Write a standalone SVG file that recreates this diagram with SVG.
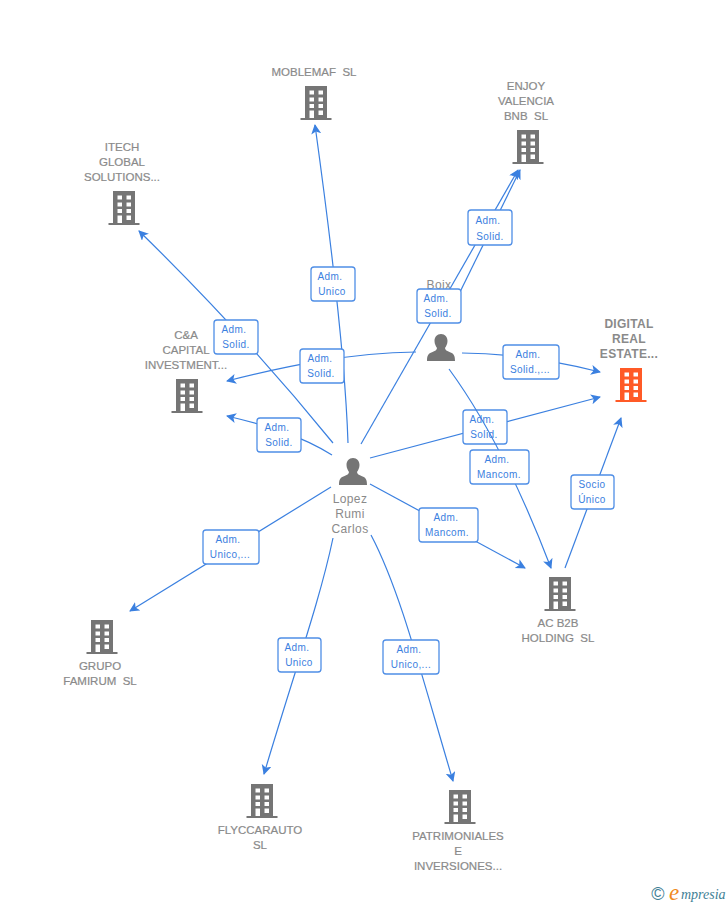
<svg xmlns="http://www.w3.org/2000/svg" width="728" height="905" viewBox="0 0 728 905">
<style>
.n{font:11.500px "Liberation Sans",Arial,sans-serif;fill:#8a8a8a;text-anchor:middle}
.b{stroke:#8a8a8a;stroke-width:.2}
.d{font-weight:bold;font-size:12px;stroke:none;letter-spacing:.3px}
.p{font-size:12px;letter-spacing:.4px}
.e{fill:none;stroke:#3b80e0;stroke-width:1.2}
.l rect{fill:#fff;stroke:#4f8ee6;stroke-width:1.3}
.l text{font:10px "Liberation Sans",Arial,sans-serif;fill:#3b80e0;text-anchor:middle;letter-spacing:.4px}
</style>
<defs>
<marker id="a" markerWidth="11" markerHeight="11" refX="9" refY="5" orient="auto" markerUnits="userSpaceOnUse"><path d="M0 0L10 5L0 10L2.500 5Z" fill="#3b80e0"/></marker>
<g id="bld">
<path fill-rule="evenodd" d="M-11 0H11V32H15.500V34H-15.500V32H-11ZM-6.500 4.500V8.500H-2V4.500ZM2.500 4.500V8.500H7V4.500ZM-6.500 11.500V15.500H-2V11.500ZM2.500 11.500V15.500H7V11.500ZM-6.500 18V22H-2V18ZM2.500 18V22H7V18ZM-6.500 24.500V32H-2V24.500ZM2.500 24.500V29H7V24.500Z"/>
</g>
<path id="per" d="M0 0C4 0 6.500 3 6.500 7C6.500 10 5 12.500 4 14C4 16 6 17 9 18.200C12.500 19.500 14 21 14 27H-14C-14 21 -12.500 19.500 -9 18.200C-6 17 -4 16 -4 14C-5 12.500 -6.500 10 -6.500 7C-6.500 3 -4 0 0 0Z" fill="#757575"/>
</defs>
<rect width="728" height="905" fill="#fff"/>
<g id="connectors">
<path class="e" marker-end="url(#a)" d="M348 443C346 380 335 270 315 125"/>
<path class="e" marker-end="url(#a)" d="M361 444L518 170"/>
<path class="e" marker-end="url(#a)" d="M333 443C290 390 220 310 139 231"/>
<path class="e" marker-end="url(#a)" d="M332 455C300 435 265 425 227 416"/>
<path class="e" marker-end="url(#a)" d="M370 458L600 397"/>
<path class="e" marker-end="url(#a)" d="M370 484L525 568"/>
<path class="e" marker-end="url(#a)" d="M331 487L130 611"/>
<path class="e" marker-end="url(#a)" d="M333 538C320 600 295 670 264 774"/>
<path class="e" marker-end="url(#a)" d="M371 535C400 590 420 670 453 781"/>
<path class="e" marker-end="url(#a)" d="M416 352C350 353 290 365 227 381"/>
<path class="e" marker-end="url(#a)" d="M462 353C510 353 560 362 600 372"/>
<path class="e" marker-end="url(#a)" d="M459 294L520 170"/>
<path class="e" marker-end="url(#a)" d="M565 568L621 418"/>
</g>
<g id="n-boix"><text class="n p" x="439" y="289">Boix</text><use href="#per" x="441" y="334"/></g>
<g id="edge-labels" class="l">
<g><rect x="311" y="267" width="44" height="34" rx="3"/><text x="330" y="280">Adm.</text><text x="332" y="295">Unico</text></g>
<g><rect x="468" y="210" width="44" height="35" rx="3"/><text x="488" y="224">Adm.</text><text x="490" y="240">Solid.</text></g>
<g><rect x="214" y="320" width="44" height="34" rx="3"/><text x="234" y="333">Adm.</text><text x="236" y="348">Solid.</text></g>
<g><rect x="300" y="349" width="44" height="34" rx="3"/><text x="320" y="362">Adm.</text><text x="321" y="377">Solid.</text></g>
<g><rect x="257" y="418" width="44" height="34" rx="3"/><text x="277" y="431">Adm.</text><text x="279" y="446">Solid.</text></g>
<g><rect x="417" y="289" width="44" height="34" rx="3"/><text x="436" y="302">Adm.</text><text x="438" y="317">Solid.</text></g>
<g><rect x="503" y="345" width="56" height="34" rx="3"/><text x="528" y="358">Adm.</text><text x="530" y="373">Solid.,...</text></g>
<g><rect x="463" y="410" width="44" height="34" rx="3"/></g>
</g>
<g id="connectors-upper">
<path class="e" marker-end="url(#a)" d="M449 369C490 425 525 500 551 568"/>
</g>
<g id="edge-labels-upper" class="l">
<g><text x="482" y="423">Adm.</text><text x="484" y="438">Solid.</text></g>
<g><rect x="470" y="450" width="59" height="34" rx="3"/><text x="497" y="463">Adm.</text><text x="499" y="478">Mancom.</text></g>
<g><rect x="419" y="508" width="59" height="34" rx="3"/><text x="446" y="521">Adm.</text><text x="447" y="536">Mancom.</text></g>
<g><rect x="571" y="475" width="43" height="34" rx="3"/><text x="592" y="488">Socio</text><text x="592" y="503">Único</text></g>
<g><rect x="203" y="530" width="56" height="34" rx="3"/><text x="228" y="543">Adm.</text><text x="230" y="558">Unico,...</text></g>
<g><rect x="278" y="638" width="43" height="34" rx="3"/><text x="297" y="651">Adm.</text><text x="299" y="666">Unico</text></g>
<g><rect x="383" y="640" width="56" height="34" rx="3"/><text x="409" y="653">Adm.</text><text x="411" y="668">Unico,...</text></g>
</g>
<g id="n-moblemaf" fill="#757575"><text class="n b" x="314" y="76" xml:space="preserve">MOBLEMAF  SL</text><use href="#bld" x="316" y="86"/></g>
<g id="n-enjoy" fill="#757575"><text class="n b" x="526" y="90">ENJOY</text><text class="n b" x="526" y="105">VALENCIA</text><text class="n b" x="526" y="120" xml:space="preserve">BNB  SL</text><use href="#bld" x="528" y="130"/></g>
<g id="n-itech" fill="#757575"><text class="n b" x="122" y="151">ITECH</text><text class="n b" x="122" y="166">GLOBAL</text><text class="n b" x="122" y="181">SOLUTIONS...</text><use href="#bld" x="124" y="191"/></g>
<g id="n-ca" fill="#757575"><text class="n b" x="186" y="339">C&amp;A</text><text class="n b" x="186" y="354">CAPITAL</text><text class="n b" x="186" y="369">INVESTMENT...</text><use href="#bld" x="187" y="379"/></g>
<g id="n-digital" fill="#ff5a26"><text class="n d" x="629" y="328">DIGITAL</text><text class="n d" x="629" y="343">REAL</text><text class="n d" x="629" y="358">ESTATE...</text><use href="#bld" x="631" y="368"/></g>
<g id="n-acb2b" fill="#757575"><use href="#bld" x="560" y="577"/><text class="n b" x="558" y="627">AC B2B</text><text class="n b" x="558" y="642" xml:space="preserve">HOLDING  SL</text></g>
<g id="n-grupo" fill="#757575"><use href="#bld" x="102" y="620"/><text class="n b" x="100" y="670">GRUPO</text><text class="n b" x="100" y="685" xml:space="preserve">FAMIRUM  SL</text></g>
<g id="n-flycc" fill="#757575"><use href="#bld" x="262" y="784"/><text class="n b" x="260" y="834">FLYCCARAUTO</text><text class="n b" x="260" y="849">SL</text></g>
<g id="n-patrim" fill="#757575"><use href="#bld" x="460" y="790"/><text class="n b" x="458" y="840">PATRIMONIALES</text><text class="n b" x="458" y="855">E</text><text class="n b" x="458" y="870">INVERSIONES...</text></g>
<g id="n-lopez"><use href="#per" x="353" y="458"/><text class="n p" x="350" y="503">Lopez</text><text class="n p" x="350" y="518">Rumi</text><text class="n p" x="350" y="533">Carlos</text></g>
<g id="brand"><text x="658" y="900" style="font:18px 'Liberation Sans',sans-serif;fill:#3f7f96;text-anchor:middle">©</text><text x="669" y="900" style="font:italic 23px 'Liberation Serif',serif;fill:#f08a1d">e</text><text x="681" y="899" style="font:italic 14px 'Liberation Serif',serif;fill:#3f7f96">mpresia</text></g>
</svg>
